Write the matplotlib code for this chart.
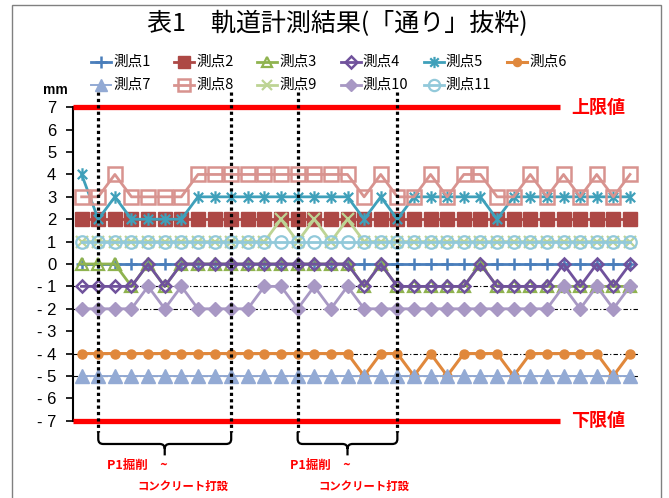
import matplotlib
matplotlib.use("Agg")
import matplotlib.pyplot as plt
from matplotlib.path import Path
from matplotlib.patches import PathPatch, Rectangle
from matplotlib.lines import Line2D
import numpy as np

plt.rcParams['font.family'] = ['Noto Sans CJK JP', 'DejaVu Sans']

# ---- data -------------------------------------------------------------
series_names = ["測点1", "測点2", "測点3", "測点4", "測点5", "測点6",
                "測点7", "測点8", "測点9", "測点10", "測点11"]

p1 = [0, 0, 0, 0, 0, 0, 0, 0, 0, 0, 0, 0, 0, 0, 0, 0, 0,
      0, 0, 0, 0, 0, 0, 0, 0, 0, 0, 0, 0, 0, 0, 0, 0, 0]
p2 = [2, 2, 2, 2, 2, 2, 2, 2, 2, 2, 2, 2, 2, 2, 2, 2, 2,
      2, 2, 2, 2, 2, 2, 2, 2, 2, 2, 2, 2, 2, 2, 2, 2, 2]
p3 = [0, 0, 0, -1, 0, -1, 0, 0, 0, 0, 0, 0, 0, 0, 0, 0, 0,
      -1, 0, -1, -1, -1, -1, -1, 0, -1, -1, -1, -1, -1, -1, -1, -1, -1]
p4 = [-1, -1, -1, -1, 0, -1, 0, 0, 0, 0, 0, 0, 0, 0, 0, 0, 0,
      -1, 0, -1, -1, -1, -1, -1, 0, -1, -1, -1, -1, 0, -1, 0, -1, 0]
p5 = [4, 2, 3, 2, 2, 2, 2, 3, 3, 3, 3, 3, 3, 3, 3, 3, 3,
      2, 3, 2, 3, 3, 3, 3, 3, 2, 3, 3, 3, 3, 3, 3, 3, 3]
p6 = [-4, -4, -4, -4, -4, -4, -4, -4, -4, -4, -4, -4, -4, -4, -4, -4, -4,
      -5, -4, -4, -5, -4, -5, -4, -4, -4, -5, -4, -4, -4, -4, -4, -5, -4]
p7 = [-5, -5, -5, -5, -5, -5, -5, -5, -5, -5, -5, -5, -5, -5, -5, -5, -5,
      -5, -5, -5, -5, -5, -5, -5, -5, -5, -5, -5, -5, -5, -5, -5, -5, -5]
p8 = [3, 3, 4, 3, 3, 3, 3, 4, 4, 4, 4, 4, 4, 4, 4, 4, 4,
      3, 4, 3, 3, 4, 3, 4, 4, 3, 3, 4, 3, 4, 3, 4, 3, 4]
p9 = [1, 1, 1, 1, 1, 1, 1, 1, 1, 1, 1, 1, 2, 1, 2, 1, 2,
      1, 1, 1, 1, 1, 1, 1, 1, 1, 1, 1, 1, 1, 1, 1, 1, 1]
p10 = [-2, -2, -2, -2, -1, -2, -1, -2, -2, -2, -2, -1, -1, -2, -1, -2, -1,
       -2, -2, -2, -2, -2, -2, -2, -2, -2, -2, -2, -2, -1, -2, -1, -2, -1]
p11 = [1, 1, 1, 1, 1, 1, 1, 1, 1, 1, 1, 1, 1, 1, 1, 1, 1,
       1, 1, 1, 1, 1, 1, 1, 1, 1, 1, 1, 1, 1, 1, 1, 1, 1]
values = [p1, p2, p3, p4, p5, p6, p7, p8, p9, p10, p11]

upper_limit = 7
lower_limit = -7
y_ticks = [7, 6, 5, 4, 3, 2, 1, 0, -1, -2, -3, -4, -5, -6, -7]
ref_levels = [-1, -2, -4, -5]
work_marks = [1, 9, 13, 19]           # dotted boundaries of the two work periods
work_spans = [(1, 9), (13, 19)]
work_label_1 = "P1掘削　~"
work_label_2 = "コンクリート打設"

# ---- styling ----------------------------------------------------------
star = Path([(0, -1), (0, 1), (-0.75, -0.75), (0.75, 0.75), (-0.75, 0.75), (0.75, -0.75)],
            [Path.MOVETO, Path.LINETO, Path.MOVETO, Path.LINETO, Path.MOVETO, Path.LINETO])

styles = [
    dict(color='#4A7EBB', marker='+', ms=9, mew=1.8, mfc='#4A7EBB', lw=2.0),
    dict(color='#AD4845', marker='s', ms=9.5, mew=1.0, mfc='#AD4845', lw=2.0),
    dict(color='#8FB34F', marker='^', ms=8.5, mew=1.6, mfc='none', lw=2.0),
    dict(color='#70529C', marker='D', ms=6.3, mew=1.8, mfc='none', lw=2.0),
    dict(color='#3FA0BA', marker=star, ms=9, mew=1.6, mfc='none', lw=2.0),
    dict(color='#E0883C', marker='o', ms=6.5, mew=1.0, mfc='#E0883C', lw=2.2),
    dict(color='#93AAD4', marker='^', ms=10, mew=1.0, mfc='#93AAD4', lw=1.4),
    dict(color='#D8938F', marker='s', ms=9.5, mew=1.8, mfc='none', lw=2.0),
    dict(color='#BDD494', marker='x', ms=8, mew=1.6, mfc='none', lw=2.0),
    dict(color='#A898C4', marker='D', ms=7.3, mew=1.0, mfc='#A898C4', lw=2.0),
    dict(color='#92C9DA', marker='o', ms=9, mew=1.6, mfc='none', lw=2.0),
]

W, H = 669, 498
fig = plt.figure(figsize=(W / 100, H / 100), dpi=100)

def fx(px):
    return px / W

def fy(py):
    return 1 - py / H

# outer chart frame
fig.patches.append(Rectangle((fx(11.5), fy(520)), fx(661) - fx(11.5), fy(5) - fy(520),
                             transform=fig.transFigure, fill=False,
                             edgecolor='#808080', lw=1.0))

ax = fig.add_axes([fx(73), fy(420.7), fx(638.3) - fx(73), fy(107.3) - fy(420.7)])
ax.set_xlim(-0.52, 33.5)
ax.set_ylim(-7, 7)
for side in ['top', 'right', 'bottom']:
    ax.spines[side].set_visible(False)
ax.spines['left'].set_linewidth(1.5)
ax.spines['left'].set_color('black')
ax.set_xticks([])
ax.set_yticks(y_ticks)
ax.set_yticklabels([f"- {abs(v)}" if v < 0 else f"{v}" for v in y_ticks],
                   family='Liberation Sans', fontsize=12)
ax.tick_params(axis='y', length=5, width=1.2, pad=7)

x = np.arange(len(p1))

# thin reference lines behind the series
for lv in ref_levels:
    ax.axhline(lv, color='black', lw=0.8, ls=(0, (4, 2, 1, 2)), zorder=1)

for vals, st in zip(values, styles):
    ax.plot(x, vals, color=st['color'], lw=st['lw'], marker=st['marker'],
            ms=st['ms'], mew=st['mew'], mfc=st['mfc'], mec=st['color'],
            zorder=2, clip_on=False)

# limit lines
red_end = 28.8
for lim in (upper_limit, lower_limit):
    ax.plot([-0.52, red_end], [lim, lim], color='#FF0000', lw=3.8,
            solid_capstyle='butt', zorder=6, clip_on=False)
ax.text(29.45, upper_limit, "上限値", color='#FF0000', fontsize=13,
        fontweight='bold', ha='left', va='center', clip_on=False)
ax.text(29.45, lower_limit, "下限値", color='#FF0000', fontsize=13,
        fontweight='bold', ha='left', va='center', clip_on=False)

# work period boundaries
for xm in work_marks:
    ax.plot([xm, xm], [7.68, -7.5], color='black', lw=2.3, ls=(0, (1, 1)),
            zorder=7, clip_on=False)

def brace(x0, x1, ytop=-7.5, ybar=-8.04, ytip=-8.55, rx=0.3, ry=0.22):
    mid = (x0 + x1) / 2
    verts = [(x0, ytop), (x0, ybar + ry), (x0, ybar), (x0 + rx, ybar),
             (mid - rx, ybar), (mid, ybar), (mid, ybar - ry), (mid, ytip),
             (x1, ytop), (x1, ybar + ry), (x1, ybar), (x1 - rx, ybar),
             (mid + rx, ybar), (mid, ybar), (mid, ybar - ry)]
    codes = [Path.MOVETO, Path.LINETO, Path.CURVE3, Path.CURVE3,
             Path.LINETO, Path.CURVE3, Path.CURVE3, Path.LINETO,
             Path.MOVETO, Path.LINETO, Path.CURVE3, Path.CURVE3,
             Path.LINETO, Path.CURVE3, Path.CURVE3]
    return PathPatch(Path(verts, codes), fill=False, edgecolor='black',
                     lw=1.6, clip_on=False, zorder=7)

label_x1 = [1.52, 12.54]
label_x2 = [3.33, 14.22]
for (a, b), lx1, lx2 in zip(work_spans, label_x1, label_x2):
    ax.add_patch(brace(a, b))
    ax.text(lx1, -9.02, work_label_1, color='#FF0000', fontsize=9,
            fontweight='bold', ha='left', va='center', clip_on=False)
    ax.text(lx2, -9.92, work_label_2, color='#FF0000', fontsize=8.2,
            fontweight='bold', ha='left', va='center', clip_on=False)

# title and unit
fig.text(fx(337), fy(24), "表1　軌道計測結果(「通り」抜粋)", fontsize=18,
         ha='center', va='center')
fig.text(fx(55), fy(90), "mm", family='Liberation Sans', fontsize=10,
         fontweight='bold', ha='center', va='center')

# legend, two rows of six
for k, (name, st) in enumerate(zip(series_names, styles)):
    row, col = divmod(k, 6)
    hx = 101 + 83.2 * col
    hy = 62 if row == 0 else 85
    fig.add_artist(Line2D([fx(hx - 10), fx(hx + 10)], [fy(hy), fy(hy)],
                          transform=fig.transFigure, color=st['color'], lw=st['lw']))
    fig.add_artist(Line2D([fx(hx)], [fy(hy)], transform=fig.transFigure,
                          marker=st['marker'], ms=st['ms'] * 0.9, mew=st['mew'],
                          mfc=st['mfc'], mec=st['color'], ls='none'))
    fig.text(fx(hx + 12), fy(hy), name, fontsize=10.5, ha='left', va='center')

fig.savefig("out.png", dpi=100)
